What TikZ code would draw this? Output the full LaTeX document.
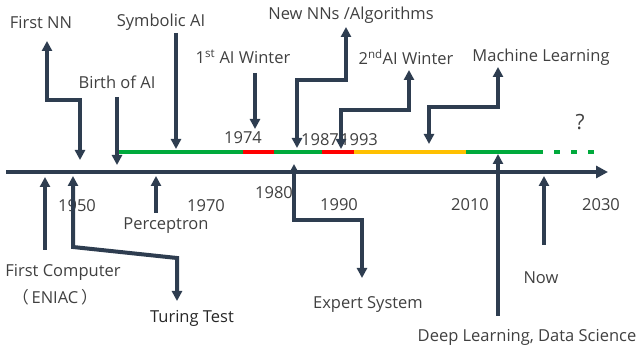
\documentclass[tikz,border=0pt]{standalone}
\usepackage{fontspec}
\setmainfont{Open Sans}
\newfontfamily\cjk{Noto Sans CJK SC}
\usetikzlibrary{arrows.meta}
\definecolor{slate}{HTML}{2E3D50}
\definecolor{txt}{HTML}{404040}
\definecolor{good}{HTML}{00AA3C}
\definecolor{cold}{HTML}{FF0000}
\definecolor{slow}{HTML}{FFC000}
\tikzset{
  axis/.style={line width=4pt,slate,-{Triangle[width=12pt,length=12pt]}},
  era/.style={line width=4pt},
  tip/.style={line width=4pt,slate,-{Triangle[width=10pt,length=10pt]}},
  tips/.style={tip,{Triangle[width=10pt,length=10pt]}-{Triangle[width=10pt,length=10pt]}},
  lbl/.style={text=txt,inner sep=0pt,font=\fontsize{16.5}{19}\selectfont},
  year/.style={lbl},
}

\begin{document}
\begin{tikzpicture}[x=1pt,y=-1pt]
\useasboundingbox (0,0) rectangle (640,347);
% time axis
\coordinate (t0) at (6,172);
\coordinate (t1) at (608,172);
\draw[axis] (t0) -- (t1);
% eras above the axis
\draw[era,good] (118,152) -- (243,152);
\draw[era,cold] (243,152) -- (274,152);
\draw[era,good] (274,152) -- (322,152);
\draw[era,cold] (322,152) -- (354,152);
\draw[era,slow] (354,152) -- (468,152);
\draw[era,good] (466,152) -- (537,152);
\draw[era,good,dash pattern=on 6pt off 11pt] (537,152) -- (595,152);
% years
\node[year] (y1950) at (77,206) {1950};
\node[year] (y1970) at (206,206) {1970};
\node[year] (y1980) at (274,193) {1980};
\node[year] (y1990) at (339,205) {1990};
\node[year] (y2010) at (470,205) {2010};
\node[year] (y2030) at (601,205) {2030};
\node[year] (y1974) at (243,138) {1974};
\node[year] (y1987) at (320,140) {1987};
\node[year] (y1993) at (359,140) {1993};
\node[lbl,font=\fontsize{21}{23}\selectfont] (what) at (580,122) {?};
% labels above
\node[lbl] (firstnn) at (41,23) {First NN};
\node[lbl] (symbolic) at (161,22) {Symbolic AI};
\node[lbl] (birth) at (117,82) {Birth of AI};
\node[lbl] (wintera) at (243,57) {1\textsuperscript{st} AI Winter};
\node[lbl] (newnn) at (351,15) {New NNs /Algorithms};
\node[lbl] (winterb) at (406,57) {2\textsuperscript{nd}AI Winter};
\node[lbl] (ml) at (541,57) {Machine Learning};
% labels below
\node[lbl] (computer) at (63,272) {First Computer};
\node[lbl] (eniac) at (55,297) {{\cjk （}\,ENIAC\,{\cjk ）}};
\node[lbl,text=black!85] (turing) at (192,318) {Turing Test};
\node[lbl] (perceptron) at (166,226) {Perceptron};
\node[lbl] (expert) at (368,305) {Expert System};
\node[lbl] (now) at (541,278) {Now};
\node[lbl] (deep) at (527,337) {Deep Learning, Data Science};
% arrow ends
\coordinate (nnA) at (47,41);   \coordinate (nnB) at (80,160);
\coordinate (biA) at (117,97);  \coordinate (biB) at (117,165);
\coordinate (syA) at (176,33);  \coordinate (syB) at (176,149);
\coordinate (waA) at (255,73);  \coordinate (waB) at (255,129);
\coordinate (alA) at (346,27);  \coordinate (alB) at (297,148);
\coordinate (wbA) at (409,70);  \coordinate (wbB) at (341,149);
\coordinate (mlA) at (498,67);  \coordinate (mlB) at (429,144);
\coordinate (coA) at (45,250);  \coordinate (coB) at (45,177);
\coordinate (tuA) at (73,176);  \coordinate (tuB) at (177,301);
\coordinate (peA) at (156,213); \coordinate (peB) at (156,176);
\coordinate (exA) at (294,164); \coordinate (exB) at (362,278);
\coordinate (dlA) at (498,316); \coordinate (dlB) at (498,154);
\coordinate (noA) at (544,245); \coordinate (noB) at (544,176);
% events
\draw[tips] (nnA) -- ++(0,59) -| (nnB);
\draw[tip] (biA) -- (biB);
\draw[tip] (syA) -- (syB);
\draw[tip] (waA) -- (waB);
\draw[tips] (alA) -- ++(0,53) -| (alB);
\draw[tips] (wbA) -- ++(0,40) -| (wbB);
\draw[tips] (mlA) -- ++(0,40) -| (mlB);
\draw[tip] (coA) -- (coB);
\draw[tips] (tuA) -- ++(0,71) -- ++(104,11) -- (tuB);
\draw[tip] (peA) -- (peB);
\draw[tips] (exA) -- ++(0,56) -| (exB);
\draw[tip] (dlA) -- (dlB);
\draw[tip] (noA) -- (noB);
\end{tikzpicture}
\end{document}
